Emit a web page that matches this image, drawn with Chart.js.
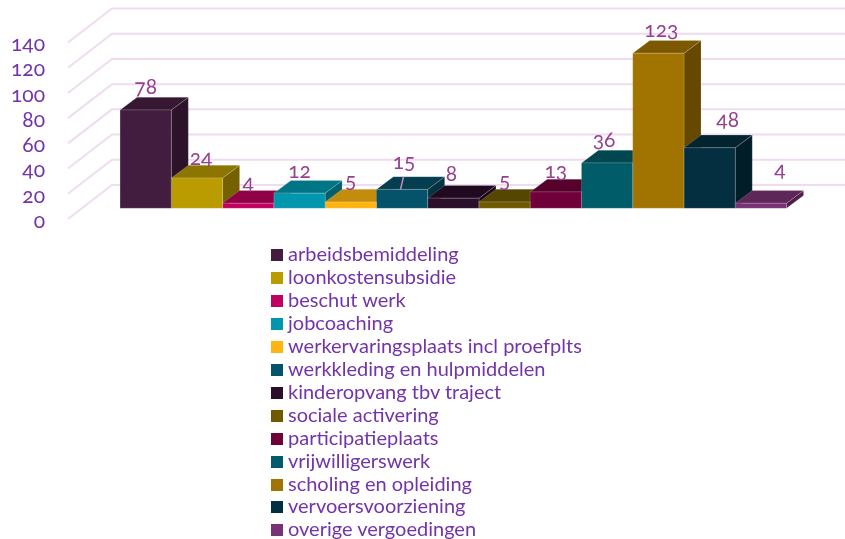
<!DOCTYPE html>
<html>
<head>
<meta charset="utf-8">
<script src="https://cdn.jsdelivr.net/npm/chart.js@4"></script>
<style>
  html, body { margin: 0; padding: 0; background: #fff; }
  #wrap { position: relative; width: 845px; height: 539px; overflow: hidden; }
  #grafiek { font-feature-settings: "onum"; font-variant-numeric: oldstyle-nums; }
  #legenda { position: absolute; left: 271px; top: 242px; margin: 0; padding: 0; list-style: none;
    font: 20px Lato, sans-serif; color: #7334a8; }
  #legenda li { height: 22.96px; line-height: 22.96px; white-space: nowrap; }
  #legenda i { display: inline-block; width: 12px; height: 12px; margin-right: 5px; }
</style>
</head>
<body>
<div id="wrap">
  <canvas id="grafiek" width="845" height="539"></canvas>
  <ul id="legenda"></ul>
</div>
<script>
const categorieen = ['arbeidsbemiddeling', 'loonkostensubsidie', 'beschut werk', 'jobcoaching',
  'werkervaringsplaats incl proefplts', 'werkkleding en hulpmiddelen', 'kinderopvang tbv traject',
  'sociale activering', 'participatieplaats', 'vrijwilligerswerk', 'scholing en opleiding',
  'vervoersvoorziening', 'overige vergoedingen'];
const waarden = [78, 24, 4, 12, 5, 15, 8, 5, 13, 36, 123, 48, 4];
const kleuren = ['#431d3f', '#ba9b00', '#c2005f', '#0096ae', '#ffb511', '#05536b', '#2a0e2a',
  '#6f5a00', '#70003a', '#005c69', '#a17300', '#032f40', '#783275'];
const bovenKleuren = ['#361832', '#8c7500', '#8f0046', '#007585', '#c48c0c', '#043e50', '#200a20',
  '#574600', '#56002c', '#004750', '#7c5800', '#022430', '#5e2759'];
const zijKleuren = ['#2c1329', '#756100', '#7a003c', '#00606e', '#a0720a', '#033342', '#190819',
  '#483a00', '#470024', '#003a42', '#664800', '#011d27', '#4d204a'];
// verschuiving van de waardelabels t.o.v. de voorkant van de balk
const labelDx = [0, 4, 0, 0, 0, 2, -2, 0, 0, -3, 3, 18, 19];
const labelDy = [-23, -20, -20, -22, -21, -27, -24, -21, -21, -23, -23, -28, -33];

const DIEPTE_X = 44, DIEPTE_Y = 34;    // wand t.o.v. voorkant
const VLAK_X = 13.8, VLAK_Y = 10.7;    // voorkant balken t.o.v. voorkant vloer
const BALK_X = 17, BALK_Y = 12.7;      // diepte van een balk
const RAND = 'rgba(255,255,255,0.16)';

function vlak(ctx, punten, kleur) {
  ctx.fillStyle = kleur;
  ctx.strokeStyle = RAND;
  ctx.lineWidth = 1;
  ctx.beginPath();
  punten.forEach((p, i) => i ? ctx.lineTo(p[0], p[1]) : ctx.moveTo(p[0], p[1]));
  ctx.closePath();
  ctx.fill();
  ctx.stroke();
}

const grid3d = {
  id: 'grid3d',
  beforeDatasetsDraw(chart) {
    const { ctx, chartArea, scales } = chart;
    ctx.save();
    ctx.strokeStyle = '#f0dcf0';
    ctx.lineWidth = 2;
    scales.y.ticks.forEach(t => {
      const y = scales.y.getPixelForValue(t.value);
      ctx.beginPath();
      ctx.moveTo(chartArea.left, y);
      ctx.lineTo(chartArea.left + DIEPTE_X, y - DIEPTE_Y);
      ctx.lineTo(chartArea.right + DIEPTE_X, y - DIEPTE_Y);
      ctx.stroke();
    });
    ctx.restore();

    // alles van de balken een stukje de diepte in
    ctx.save();
    ctx.translate(VLAK_X, -VLAK_Y);
    chart.data.datasets.forEach((ds, i) => {
      const bar = chart.getDatasetMeta(i).data[0];
      const l = bar.x - bar.width / 2, r = bar.x + bar.width / 2;
      vlak(ctx, [[r, bar.y], [r + BALK_X, bar.y - BALK_Y], [r + BALK_X, bar.base - BALK_Y], [r, bar.base]], zijKleuren[i]);
      vlak(ctx, [[l, bar.y], [l + BALK_X, bar.y - BALK_Y], [r + BALK_X, bar.y - BALK_Y], [r, bar.y]], bovenKleuren[i]);
    });
  },
  afterDatasetsDraw(chart) {
    const { ctx } = chart;
    // dunne lichte rand om de voorkant
    ctx.strokeStyle = RAND;
    ctx.lineWidth = 1;
    chart.data.datasets.forEach((ds, i) => {
      const bar = chart.getDatasetMeta(i).data[0];
      ctx.strokeRect(bar.x - bar.width / 2, bar.y, bar.width, bar.base - bar.y);
    });
    ctx.restore();
  },
  afterDraw(chart) {
    const { ctx } = chart;
    ctx.save();
    ctx.font = '21px Lato, sans-serif';
    ctx.fillStyle = '#96408f';
    ctx.textAlign = 'center';
    ctx.textBaseline = 'middle';
    chart.data.datasets.forEach((ds, i) => {
      const bar = chart.getDatasetMeta(i).data[0];
      ctx.fillText(ds.data[0], bar.x + VLAK_X + labelDx[i], bar.y - VLAK_Y + labelDy[i]);
    });
    // het losse streepje op de bovenkant van de zesde balk
    const zes = chart.getDatasetMeta(5).data[0];
    ctx.strokeStyle = '#c98fc0';
    ctx.lineWidth = 1.5;
    ctx.beginPath();
    ctx.moveTo(zes.x + VLAK_X - 1.5, zes.y - VLAK_Y);
    ctx.lineTo(zes.x + VLAK_X + 1.5, zes.y - VLAK_Y - BALK_Y);
    ctx.stroke();
    ctx.restore();
  }
};

new Chart(document.getElementById('grafiek'), {
  type: 'bar',
  data: {
    labels: [''],
    datasets: categorieen.map((naam, i) => ({
      label: naam,
      data: [waarden[i]],
      backgroundColor: kleuren[i],
      borderWidth: 0,
      clip: false
    }))
  },
  options: {
    responsive: false,
    animation: false,
    layout: { padding: { left: 0, right: 34, top: 42.5, bottom: 320 } },
    categoryPercentage: 0.897,
    barPercentage: 1,
    plugins: { legend: { display: false }, tooltip: { enabled: false } },
    scales: {
      x: { display: false },
      y: {
        min: 0, max: 140,
        afterFit(scale) { scale.width = 68; },
        grid: { display: false },
        border: { display: false },
        ticks: {
          stepSize: 20, autoSkip: false, padding: 15, labelOffset: 2, color: '#7334a8',
          font: { family: 'Lato, sans-serif', size: 21 }
        }
      }
    }
  },
  plugins: [grid3d]
});

document.getElementById('legenda').innerHTML = categorieen.map((naam, i) =>
  `<li><i style="background:${kleuren[i]}"></i>${naam}</li>`).join('');
</script>
</body>
</html>
